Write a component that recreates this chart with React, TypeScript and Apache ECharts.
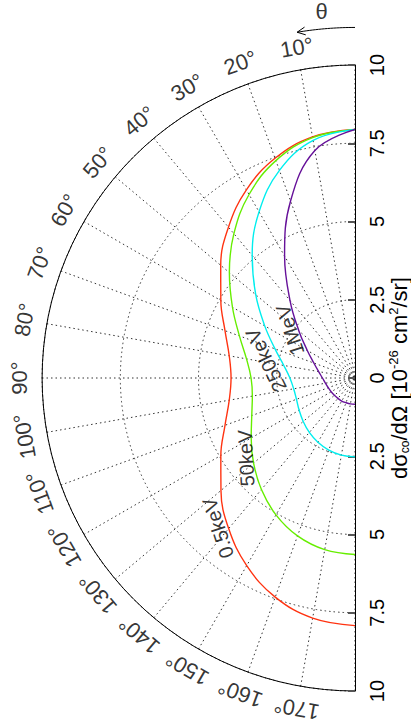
import { useEffect, useRef } from 'react';
import * as echarts from 'echarts';

// scattering angle θ (degrees)
const THETA = [0, 10, 20, 30, 40, 50, 60, 70, 80, 90, 100, 110, 120, 130, 140, 150, 160, 170, 180];
// dσ/dΩ [10^-26 cm^2/sr]
const R_05KEV = [7.94, 7.82, 7.47, 6.94, 6.29, 5.6, 4.95, 4.42, 4.08, 3.96, 4.08, 4.42, 4.95, 5.59, 6.28, 6.92, 7.45, 7.79, 7.91];
const R_50KEV = [7.94, 7.8, 7.39, 6.77, 6.02, 5.24, 4.52, 3.93, 3.52, 3.32, 3.33, 3.51, 3.83, 4.23, 4.65, 5.05, 5.37, 5.57, 5.64];
const R_250KEV = [7.94, 7.71, 7.06, 6.13, 5.11, 4.14, 3.33, 2.72, 2.31, 2.08, 1.99, 1.99, 2.06, 2.16, 2.27, 2.37, 2.45, 2.5, 2.52];
const R_1MEV = [7.94, 7.38, 6.02, 4.5, 3.23, 2.34, 1.76, 1.4, 1.18, 1.04, 0.96, 0.91, 0.88, 0.86, 0.85, 0.85, 0.84, 0.84, 0.84];

const CURVE_NAMES = ['0.5keV', '50keV', '250keV', '1MeV'];
const ANGLE_TICKS = [10, 20, 30, 40, 50, 60, 70, 80, 90, 100, 110, 120, 130, 140, 150, 160, 170];
const RADIUS_MIN = 0;
const RADIUS_MAX = 10;
const RADIUS_STEP = 2.5;

// styles / positions (not data)
const COLORS = ['#ff3311', '#66ee00', '#00eeee', '#661199'];
const LABEL_ANCHORS: [number, number, number][] = [
  [6.49, 137.6, 108],
  [4.32, 126.3, 93],
  [2.9, 78.6, 116],
  [2.58, 53.6, 108],
];
const FONT = "'Liberation Sans', Arial, sans-serif";

export default function App() {
  const ref = useRef<HTMLDivElement>(null);
  useEffect(() => {
    const chart = echarts.init(ref.current!, null, { renderer: 'svg' });
    const center = [355, 378];
    const radius = 313;
    const dotted = { type: [1.5, 3] as any, color: '#333', width: 1 };
    const curves = [R_05KEV, R_50KEV, R_250KEV, R_1MEV];

    const series: any[] = curves.map((rs, i) => ({
      type: 'line',
      name: CURVE_NAMES[i],
      coordinateSystem: 'polar',
      polarIndex: 0,
      showSymbol: false,
      symbol: 'none',
      smooth: 0.4,
      clip: false,
      lineStyle: { color: COLORS[i], width: 1.4 },
      data: THETA.map((t, j) => [rs[j], t]),
      z: 5,
    }));

    series.push({
      type: 'scatter',
      coordinateSystem: 'polar',
      polarIndex: 0,
      symbolSize: 0,
      clip: false,
      silent: true,
      data: ANGLE_TICKS.map((t) => ({
        value: [10.72, t],
        label: { rotate: t },
      })),
      label: {
        show: true,
        position: 'inside',
        formatter: (p: any) => `${p.value[1]}°`,
        fontSize: 22,
        fontFamily: FONT,
        color: '#000',
      },
    });

    series.push({
      type: 'scatter',
      coordinateSystem: 'polar',
      polarIndex: 0,
      symbolSize: 0,
      clip: false,
      silent: true,
      data: CURVE_NAMES.map((n, i) => ({
        name: n,
        value: [LABEL_ANCHORS[i][0], LABEL_ANCHORS[i][1]],
        label: { rotate: LABEL_ANCHORS[i][2] },
      })),
      label: {
        show: true,
        position: 'inside',
        formatter: (p: any) => p.name,
        fontSize: 20,
        fontFamily: FONT,
        color: '#000',
      },
      z: 6,
    });

    series.push({
      type: 'scatter',
      coordinateSystem: 'polar',
      polarIndex: 0,
      symbolSize: 0,
      clip: false,
      silent: true,
      data: [{ name: 'θ', value: [11.75, 5.2] }],
      label: {
        show: true,
        position: 'inside',
        formatter: 'θ',
        fontSize: 22,
        fontFamily: FONT,
        color: '#000',
      },
    });

    const radiusCommon = {
      type: 'value',
      min: RADIUS_MIN,
      max: RADIUS_MAX,
      interval: RADIUS_STEP,
      axisLine: { show: true, lineStyle: { color: '#000', width: 1 } },
    };
    const labelCommon = {
      rotate: 90,
      fontSize: 20,
      color: '#000',
      fontFamily: FONT,
      align: 'center',
      verticalAlign: 'middle',
    };
    const tickLine = { color: '#555', width: 2 };

    chart.setOption({
      animation: false,
      backgroundColor: '#fff',
      polar: [
        { center, radius },
        { center, radius },
      ],
      angleAxis: [
        {
          polarIndex: 0,
          type: 'value',
          min: 0,
          max: 180,
          interval: 10,
          startAngle: 90,
          endAngle: 270,
          clockwise: false,
          axisLine: { show: true, lineStyle: { color: '#000', width: 1 } },
          axisTick: { show: false },
          axisLabel: { show: false },
          splitLine: { show: true, lineStyle: dotted },
        },
        {
          polarIndex: 1,
          type: 'value',
          min: 0,
          max: 360,
          startAngle: 270,
          show: false,
        },
      ],
      radiusAxis: [
        {
          polarIndex: 0,
          ...radiusCommon,
          axisTick: { show: true, length: 7, lineStyle: tickLine },
          axisLabel: { ...labelCommon, margin: -22 },
          splitLine: { show: true, lineStyle: dotted },
        },
        {
          polarIndex: 1,
          ...radiusCommon,
          axisTick: { show: true, length: -7, lineStyle: tickLine },
          axisLabel: { ...labelCommon, margin: 22, showMinLabel: false },
          splitLine: { show: false },
        },
      ],
      series,
    });

    // arrow for θ direction and axis title, positioned via the polar scale
    const px = (r: number, t: number) => chart.convertToPixel({ seriesIndex: 0 } as any, [r, t]) as number[];
    const arcPts: number[][] = [];
    for (let t = 0; t <= 9.5; t += 0.5) arcPts.push(px(11.2, t));
    const tip = px(11.2, 9.5);
    const back = px(11.2, 8.5);
    const dx = back[0] - tip[0];
    const dy = back[1] - tip[1];
    const len = Math.hypot(dx, dy);
    const ux = dx / len;
    const uy = dy / len;
    const head = (a: number) => {
      const c = Math.cos(a);
      const s = Math.sin(a);
      return [tip[0] + 9 * (ux * c - uy * s), tip[1] + 9 * (ux * s + uy * c)];
    };
    const c0 = px(0, 0);

    chart.setOption({
      graphic: [
        {
          type: 'polyline',
          shape: { points: arcPts },
          style: { stroke: '#000', lineWidth: 1, fill: null },
        },
        {
          type: 'polyline',
          shape: { points: [head(0.45), tip, head(-0.45)] },
          style: { stroke: '#000', lineWidth: 1, fill: null },
        },
        {
          type: 'text',
          x: c0[0] + 44,
          y: c0[1],
          rotation: Math.PI / 2,
          style: {
            text: '{n|dσ}{s|co}{n|/dΩ [10}{u|-26}{n| cm}{u|2}{n|/sr]}',
            align: 'center',
            verticalAlign: 'middle',
            fill: '#000',
            rich: {
              n: { fontSize: 22, fontFamily: FONT, lineHeight: 24, verticalAlign: 'middle' },
              s: { fontSize: 12, fontFamily: FONT, lineHeight: 24, verticalAlign: 'bottom' },
              u: { fontSize: 13, fontFamily: FONT, lineHeight: 24, verticalAlign: 'top' },
            },
          },
        },
      ],
    });

    return () => chart.dispose();
  }, []);
  return <div ref={ref} style={{ position: 'fixed', left: 0, top: 0, width: 411, height: 725 }} />;
}
